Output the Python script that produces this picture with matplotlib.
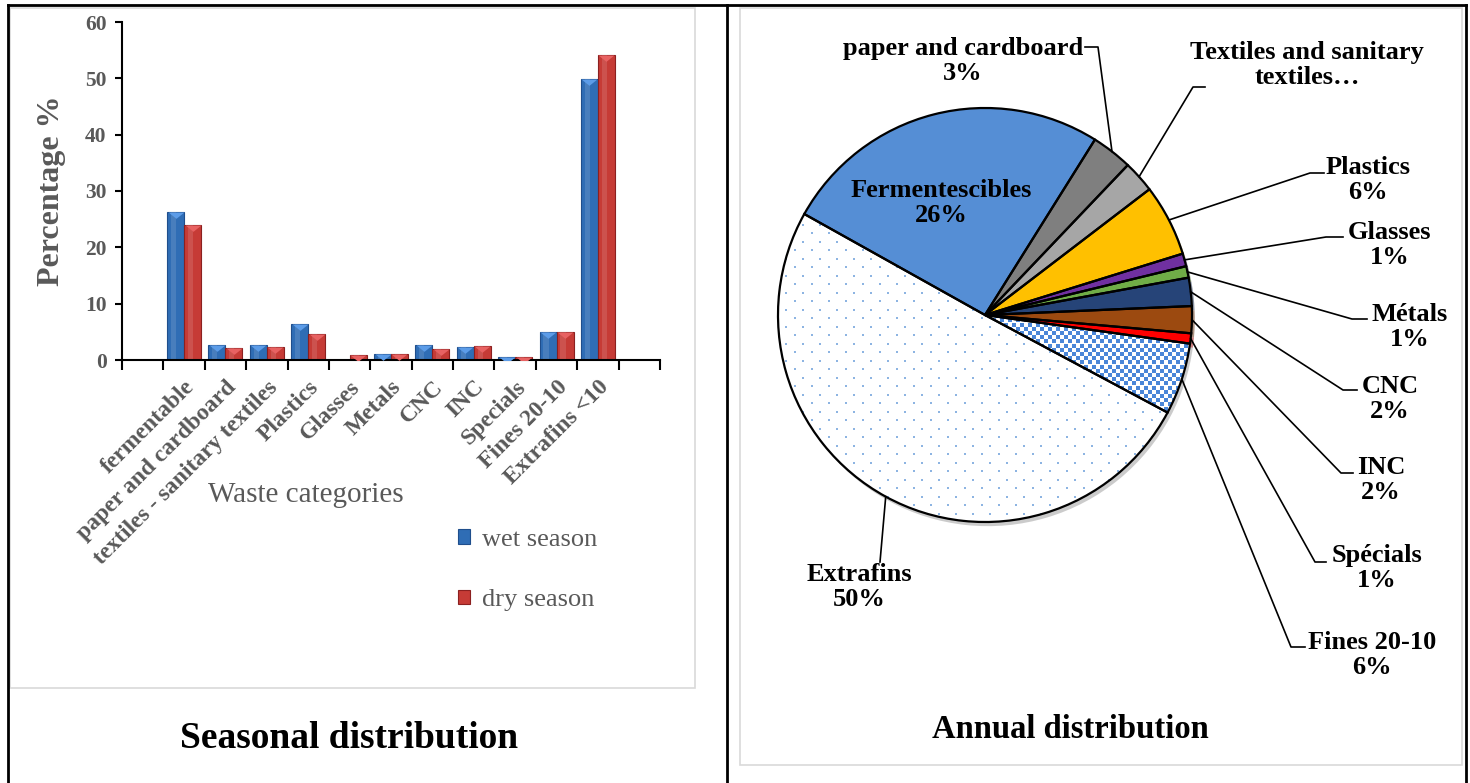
import matplotlib
matplotlib.use("Agg")
import matplotlib.pyplot as plt
from matplotlib.markers import MarkerStyle
from matplotlib.transforms import ScaledTranslation
import numpy as np

plt.rcParams['font.family'] = ['Liberation Serif', 'DejaVu Serif']

W, H = 1470, 783

# seasonal distribution (bar chart)
categories = ['fermentable', 'paper and cardboard', 'textiles - sanitary textiles',
              'Plastics', 'Glasses', 'Metals', 'CNC', 'INC', 'Specials',
              'Fines 20-10', 'Extrafins <10']
wet = [26.3, 2.7, 2.7, 6.4, 0.0, 1.1, 2.7, 2.3, 0.6, 4.9, 49.8]
dry = [23.9, 2.1, 2.3, 4.6, 0.9, 1.1, 2.0, 2.5, 0.6, 4.9, 54.1]
series_names = ['wet season', 'dry season']

# annual distribution (pie chart), clockwise from Fermentescibles
pie_names = ['Fermentescibles', 'paper and cardboard', 'Textiles and sanitary\ntextiles\u2026',
             'Plastics', 'Glasses', 'M\u00e9tals', 'CNC', 'INC', 'Sp\u00e9cials',
             'Fines 20-10', 'Extrafins']
annual = [25.8, 3.2, 2.5, 5.6, 1.0, 0.9, 2.2, 2.1, 0.8, 5.6, 50.3]
pie_colors = ['#558ED5', '#7F7F7F', '#A6A6A6', '#FFC000', '#7030A0', '#70AD47',
              '#264478', '#9C4A10', '#FF0000', 'white', 'white']

grey = '#595959'


def px_rect(x0, y0, x1, y1):
    return [x0 / W, 1 - y1 / H, (x1 - x0) / W, (y1 - y0) / H]


fig = plt.figure(figsize=(W / 100, H / 100), dpi=100)

# frame of the two table cells and the chart areas
ax0 = fig.add_axes([0, 0, 1, 1])
ax0.set_xlim(0, W)
ax0.set_ylim(H, 0)
ax0.set_axis_off()
ax0.plot([8, 1466], [5, 5], color='black', lw=2)
for xv in [8, 727, 1466]:
    ax0.plot([xv, xv], [5, H], color='black', lw=2)
ax0.add_patch(plt.Rectangle((10, 8), 685, 680, fill=False, ec='#D9D9D9', lw=1.2))
ax0.add_patch(plt.Rectangle((740, 8), 722, 757, fill=False, ec='#D9D9D9', lw=1.2))
ax0.text(349, 738, 'Seasonal distribution', ha='center', va='center',
         fontsize=27, fontweight='bold')
ax0.text(1070, 730, 'Annual distribution', ha='center', va='center',
         fontsize=23.5, fontweight='bold')

# ---- bar chart ----
axb = fig.add_axes(px_rect(122, 22, 660, 360))
x = np.arange(1, len(categories) + 1)
bw = 0.41
wet_a, dry_a = np.array(wet), np.array(dry)
b1 = axb.bar(x - bw / 2, wet_a, bw, color='#2F6DB5', edgecolor='#1F4E8C', lw=0.8, zorder=2)
b2 = axb.bar(x + bw / 2, dry_a, bw, color='#C63B36', edgecolor='#8B2020', lw=0.8, zorder=2)
# soft highlight to hint at the bevelled bars
axb.bar(x - bw * 0.62, wet_a, bw * 0.3, color='white', alpha=0.12, lw=0, zorder=2.5)
axb.bar(x + bw * 0.38, dry_a, bw * 0.3, color='white', alpha=0.12, lw=0, zorder=2.5)

tri = MarkerStyle([(-1, 0), (1, 0), (0, -0.8), (-1, 0)])
m = wet_a > 0
axb.scatter(x[m] - bw / 2, wet_a[m], marker=tri, s=130, color='#5C9CE8', lw=0, zorder=3)
axb.scatter(x + bw / 2, dry_a, marker=tri, s=130, color='#E86262', lw=0, zorder=3)

axb.set_xlim(-0.5, 12.5)
axb.set_ylim(0, 60)
axb.set_yticks(range(0, 61, 10))
axb.set_xticks(x)
axb.set_xticklabels(categories, rotation=45, ha='right', rotation_mode='anchor',
                    fontsize=17, fontweight='bold', color=grey)
shift = ScaledTranslation(-9 / 100, 0, fig.dpi_scale_trans)
for lab in axb.get_xticklabels():
    lab.set_transform(lab.get_transform() + shift)
axb.set_xticks(np.arange(-0.5, 13, 1), minor=True)
axb.tick_params(axis='x', which='major', length=0, pad=12)
axb.tick_params(axis='x', which='minor', length=7, width=1.5, direction='out')
axb.tick_params(axis='y', length=5, width=1.5, direction='out', labelsize=15.5,
                labelcolor=grey, pad=6)
for lab in axb.get_yticklabels():
    lab.set_fontweight('bold')
for s in ['top', 'right']:
    axb.spines[s].set_visible(False)
for s in ['left', 'bottom']:
    axb.spines[s].set_linewidth(1.5)
axb.set_facecolor('none')
axb.set_ylabel('Percentage %', fontsize=23, fontweight='bold', color=grey)
axb.yaxis.set_label_coords(-0.105, 0.5)

ax0.text(306, 495, 'Waste categories', ha='center', va='center', fontsize=21, color=grey)
fig.legend([b1, b2], series_names, loc='center left',
           bbox_to_anchor=(458 / W, 1 - 570 / H), frameon=False,
           prop={'size': 19}, labelcolor=grey, handlelength=0.45, handleheight=0.45,
           handletextpad=0.45, labelspacing=1.45, borderpad=0, borderaxespad=0)

# ---- pie chart ----
axp = fig.add_axes([0, 0, 1, 1])
cx, cy, R = 985, H - 315, 207
wedges, _ = axp.pie(annual, colors=pie_colors, startangle=150.8, counterclock=False,
                    center=(cx, cy), radius=R, wedgeprops=dict(linewidth=0),
                    shadow={'ox': 2, 'oy': -3, 'shade': 0.4})
axp.pie(annual, startangle=150.8, counterclock=False, center=(cx, cy), radius=R,
        wedgeprops=dict(fill=False, edgecolor='black', linewidth=1.6, zorder=4))
axp.set_xlim(0, W)
axp.set_ylim(0, H)
axp.set_axis_off()


# dotted fills for the two fine fractions, clipped to their wedges
def dot_fill(wedge, step_x, step_y, size, color):
    gx, gy = [], []
    for k, yy in enumerate(np.arange(cy - R, cy + R, step_y)):
        off = (step_x / 2) * (k % 2)
        xx = np.arange(cx - R + off, cx + R, step_x)
        gx.extend(xx)
        gy.extend([yy] * len(xx))
    sc = axp.scatter(gx, gy, marker='s', s=size, color=color, lw=0, zorder=3)
    sc.set_clip_path(wedge)


dot_fill(wedges[9], 8.0, 4.2, 11, '#4A86D8')
dot_fill(wedges[10], 17.0, 8.5, 3, '#8DB4E2')

pct = ['%d%%' % round(v) for v in annual]

# label layout: text centre, elbow of the leader, end of the short dash (image px)
label_pos = {
    1: (963, 61, 1098, 47, 1085),
    2: (1307, 65, 1193, 87, 1205),
    3: (1368, 180, 1310, 173, 1324),
    4: (1390, 245, 1326, 237, 1343),
    5: (1410, 327, 1352, 319, 1367),
    6: (1390, 399, 1343, 390, 1357),
    7: (1381, 480, 1341, 473, 1353),
    8: (1377, 568, 1315, 562, 1326),
    9: (1372, 655, 1291, 647, 1305),
    10: (859, 587, 880, 562, 880),
}
for i, (tx, ty, ex, ey, dx) in label_pos.items():
    w = wedges[i]
    mid = np.deg2rad((w.theta1 + w.theta2) / 2)
    px, py = cx + R * np.cos(mid), cy + R * np.sin(mid)
    axp.plot([px, ex, dx], [py, H - ey, H - ey], color='black', lw=1.2, zorder=5)
    txt = pie_names[i] if i == 2 else pie_names[i] + '\n' + pct[i]
    axp.text(tx, H - ty, txt, ha='center', va='center', fontsize=19,
             fontweight='bold', linespacing=1.1, zorder=6)

axp.text(941, H - 203, pie_names[0] + '\n' + pct[0], ha='center', va='center',
         fontsize=19, fontweight='bold', linespacing=1.1, zorder=6)

fig.savefig('out.png', dpi=100)
